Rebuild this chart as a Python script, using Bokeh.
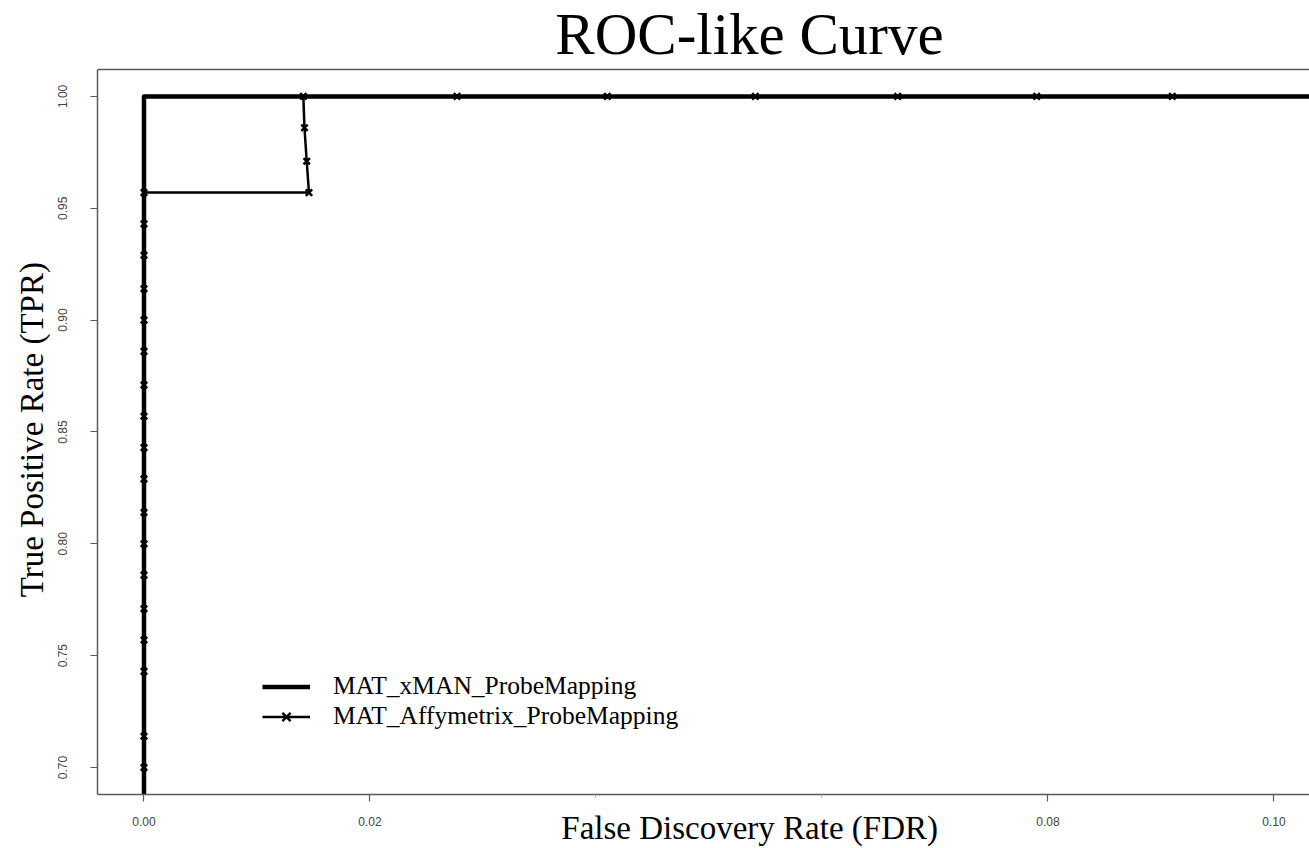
import math
from bokeh.plotting import figure
from bokeh.models import (FixedTicker, PrintfTickFormatter, LinearAxis, Label,
                          Legend, LegendItem, Range1d, Span)
from bokeh.embed import file_html
from bokeh.resources import INLINE

# ---------------- data ----------------
title_text = "ROC-like Curve"
x_label = "False Discovery Rate (FDR)"
y_label = "True Positive Rate (TPR)"
series_names = ["MAT_xMAN_ProbeMapping", "MAT_Affymetrix_ProbeMapping"]

xman_fdr = [0.0, 0.0, 0.11]
xman_tpr = [0.0, 1.0, 1.0]

affy_fdr = [0.0, 0.0, 0.0, 0.0, 0.0, 0.0, 0.0, 0.0, 0.0, 0.0, 0.0, 0.0,
            0.0, 0.0, 0.0, 0.0, 0.0, 0.0,
            0.0146, 0.0144, 0.0142, 0.0141,
            0.0277, 0.0410, 0.0541, 0.0667, 0.0790, 0.0910, 0.1040]
affy_tpr = [0.700, 0.714, 0.743, 0.757, 0.771, 0.786, 0.800, 0.814, 0.829,
            0.843, 0.857, 0.871, 0.886, 0.900, 0.914, 0.929, 0.943, 0.957,
            0.957, 0.971, 0.986, 1.000,
            1.000, 1.000, 1.000, 1.000, 1.000, 1.000, 1.000]

x_major_ticks = [0.00, 0.02, 0.08, 0.10]
x_minor_ticks = [0.04, 0.06]
y_ticks = [0.70, 0.75, 0.80, 0.85, 0.90, 0.95, 1.00]

# ---------------- layout constants (pixels -> data) ----------------
PX_X = 11300.0   # pixels per unit FDR
PX_Y = 2240.0    # pixels per unit TPR
X0 = -0.004115                       # frame left (x = 97 px)
X1 = X0 + (1309 - 97) / PX_X         # frame right (canvas edge)
Y0 = 1.0 - (795 - 96) / PX_Y         # frame bottom (y = 795 px)
Y1 = 1.0 + 96 / PX_Y                 # frame top = canvas top
YB = 1.0 + (96 - 69) / PX_Y          # drawn box top (y = 69 px)


def dx(px):
    return X0 + (px - 97) / PX_X


def dy(py):
    return 1.0 - (py - 96) / PX_Y


XLAB_POS = 0.0536   # where the x title is centred
YLAB_POS = 0.8510   # where the y title is centred

# ---------------- figure ----------------
p = figure(width=1309, height=848, output_backend="svg", toolbar_location=None,
           x_range=Range1d(X0, X1), y_range=Range1d(Y0, Y1),
           x_axis_type=None, y_axis_type=None,
           min_border_left=97, min_border_right=0, min_border_top=0,
           min_border_bottom=53)
p.outline_line_color = None
p.grid.visible = False
p.background_fill_color = "white"
p.border_fill_color = "white"

box_col = "#5a5a5a"
lab_col = "#444444"

xaxis = LinearAxis(ticker=FixedTicker(ticks=x_major_ticks, minor_ticks=x_minor_ticks),
                   formatter=PrintfTickFormatter(format="%.2f"))
xaxis.axis_line_color = box_col
xaxis.axis_line_width = 1.5
xaxis.major_tick_line_color = box_col
xaxis.major_tick_line_width = 1.2
xaxis.major_tick_out = 7
xaxis.major_tick_in = 0
xaxis.minor_tick_out = 3
xaxis.minor_tick_in = 0
xaxis.minor_tick_line_color = "#aaaaaa"
xaxis.major_label_text_font = "Liberation Sans"
xaxis.major_label_text_font_size = "12px"
xaxis.major_label_text_color = lab_col
xaxis.major_label_standoff = 15
p.add_layout(xaxis, "below")

# x-axis title, placed under the tick labels at its own position
xtitle_axis = LinearAxis(ticker=FixedTicker(ticks=[XLAB_POS]),
                         major_label_overrides={XLAB_POS: x_label})
xtitle_axis.axis_line_color = None
xtitle_axis.major_tick_line_color = None
xtitle_axis.major_tick_out = 0
xtitle_axis.major_tick_in = 0
xtitle_axis.minor_tick_out = 0
xtitle_axis.minor_tick_in = 0
xtitle_axis.major_label_text_font = "Liberation Serif"
xtitle_axis.major_label_text_font_size = "33px"
xtitle_axis.major_label_text_color = "black"
xtitle_axis.major_label_standoff = -19
p.add_layout(xtitle_axis, "below")

yaxis = LinearAxis(ticker=FixedTicker(ticks=y_ticks),
                   formatter=PrintfTickFormatter(format="%.2f"),
                   bounds=(Y0, YB))
yaxis.axis_line_color = box_col
yaxis.axis_line_width = 1.5
yaxis.major_tick_line_color = box_col
yaxis.major_tick_line_width = 1.2
yaxis.major_tick_out = 7
yaxis.major_tick_in = 0
yaxis.minor_tick_out = 0
yaxis.minor_tick_in = 0
yaxis.major_label_orientation = "vertical"
yaxis.major_label_text_font = "Liberation Sans"
yaxis.major_label_text_font_size = "12px"
yaxis.major_label_text_color = lab_col
yaxis.major_label_standoff = 23
p.add_layout(yaxis, "left")

# y-axis title, centred on the drawn box
ytitle_axis = LinearAxis(ticker=FixedTicker(ticks=[YLAB_POS]),
                         major_label_overrides={YLAB_POS: y_label})
ytitle_axis.axis_line_color = None
ytitle_axis.major_tick_line_color = None
ytitle_axis.major_tick_out = 0
ytitle_axis.major_tick_in = 0
ytitle_axis.minor_tick_out = 0
ytitle_axis.minor_tick_in = 0
ytitle_axis.major_label_orientation = "vertical"
ytitle_axis.major_label_text_font = "Liberation Serif"
ytitle_axis.major_label_text_font_size = "33px"
ytitle_axis.major_label_text_color = "black"
ytitle_axis.major_label_standoff = 5
p.add_layout(ytitle_axis, "left")

# top edge of the box
p.add_layout(Span(location=YB, dimension="width", line_color=box_col,
                  line_width=1.5))

# ---------------- series ----------------
r1 = p.line(xman_fdr, xman_tpr, line_color="black", line_width=4.5,
            line_join="round")
r2 = p.line(affy_fdr, affy_tpr, line_color="black", line_width=2.5,
            line_join="round")
r3 = p.scatter(affy_fdr, affy_tpr, marker="x", size=9, line_color="black",
               line_width=2.5)

legend = Legend(items=[LegendItem(label=series_names[0], renderers=[r1]),
                       LegendItem(label=series_names[1], renderers=[r2, r3])],
                location=(165, 63), orientation="vertical")
legend.border_line_color = None
legend.background_fill_alpha = 0
legend.padding = 0
legend.spacing = 0
legend.margin = 0
legend.glyph_width = 48
legend.glyph_height = 29
legend.label_height = 29
legend.label_standoff = 23
legend.label_text_font = "Liberation Serif"
legend.label_text_font_size = "25.5px"
legend.label_text_color = "black"
p.add_layout(legend)

# ---------------- title ----------------
p.add_layout(Label(x=dx(749), y=dy(34), text=title_text,
                   text_font="Liberation Serif", text_font_size="59px",
                   text_align="center", text_baseline="alphabetic",
                   text_color="black"))

open("out.html", "w").write(file_html(p, INLINE))
